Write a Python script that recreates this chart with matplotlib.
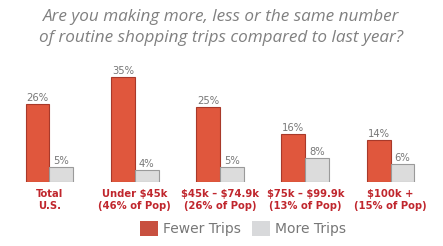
import matplotlib.pyplot as plt
from matplotlib.patches import Patch
import numpy as np

plt.rcParams["text.parse_math"] = False

# ---- data ----
categories = ["Total\nU.S.", "Under $45k\n(46% of Pop)", "$45k \u2013 $74.9k\n(26% of Pop)",
              "$75k \u2013 $99.9k\n(13% of Pop)", "$100k +\n(15% of Pop)"]
fewer_trips = [26, 35, 25, 16, 14]
more_trips = [5, 4, 5, 8, 6]

RED = "#E0573D"
RED_EDGE = "#A8392A"
GREY = "#DCDCDC"
GREY_EDGE = "#9A9A9A"
LABEL_RED = "#C0262D"
TEXT_GREY = "#777777"

fig = plt.figure(figsize=(4.43, 2.46), dpi=100)
ax = fig.add_axes([0, 64 / 246, 1, 182 / 246])

x = np.arange(len(categories))
w = 0.28
b1 = ax.bar(x - w / 2, fewer_trips, w, color=RED, edgecolor=RED_EDGE, linewidth=0.8)
b2 = ax.bar(x + w / 2, more_trips, w, color=GREY, edgecolor=GREY_EDGE, linewidth=0.8)

for bars in (b1, b2):
    ax.bar_label(bars, labels=[f"{v}%" for v in bars.datavalues], padding=1,
                 fontsize=8, color=TEXT_GREY, fontstretch="condensed")

ax.set_xlim(-0.58, 4.615)
ax.set_ylim(0, 182 / 3)
ax.set_xticks(x, categories)
ax.tick_params(axis="x", length=0, pad=5, labelsize=8, labelcolor=LABEL_RED)
for lbl in ax.get_xticklabels():
    lbl.set_fontweight("bold")
    lbl.set_fontstretch("condensed")
    lbl.set_linespacing(1.25)
ax.set_yticks([])
for s in ax.spines.values():
    s.set_visible(False)

fig.text(0.5, 0.965, "Are you making more, less or the same number\nof routine shopping trips compared to last year?",
         ha="center", va="top", fontsize=12.3, style="italic", color="#808080",
         family="Open Sans", linespacing=1.42)

handles = [Patch(facecolor="#C85040", label="Fewer Trips"),
           Patch(facecolor="#D8D9DB", label="More Trips")]
fig.legend(handles=handles, loc="center", bbox_to_anchor=(0.548, 0.07), ncol=2,
           frameon=False, fontsize=10, labelcolor=TEXT_GREY, handlelength=1.3,
           handleheight=1.3, handletextpad=0.35, columnspacing=0.8)

fig.savefig("out.png", dpi=100)
